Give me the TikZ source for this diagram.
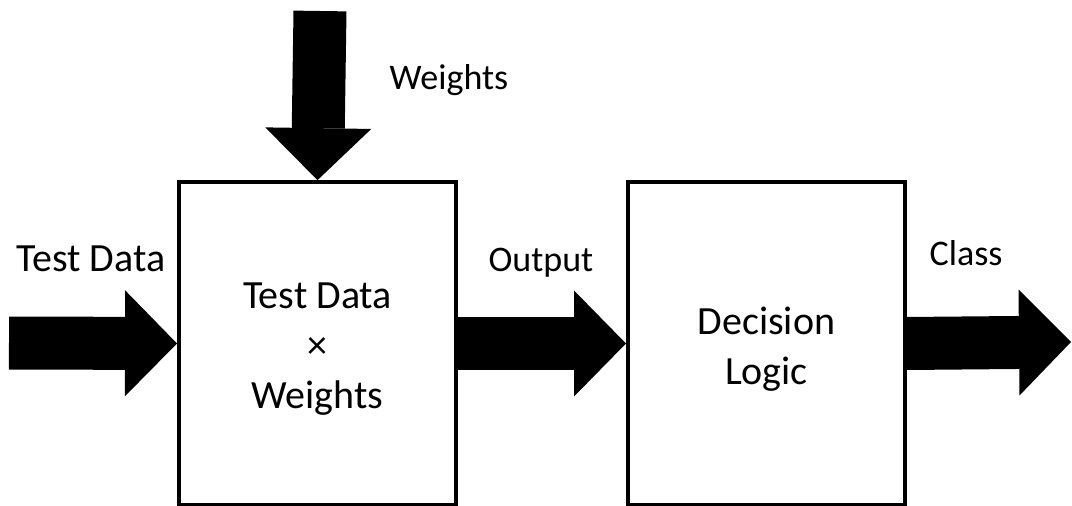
\documentclass[tikz,border=0pt]{standalone}
\usepackage{fontspec}
\setmainfont{Carlito}
\usetikzlibrary{arrows.meta, positioning}

\begin{document}
\begin{tikzpicture}[
    x=0.75pt, y=-0.75pt,
    every node/.style={text=black},
    block/.style={draw, line width=3pt, minimum width=207.75pt,
                  minimum height=242pt},
    blocktext/.style={align=center, font=\fontsize{30}{37.5}\selectfont},
    flow/.style={line width=39.75pt,
                 -{Triangle[length=39pt, width=79.5pt, line width=0pt]}},
    lbl/.style={font=\fontsize{27}{32}\selectfont, anchor=base},
  ]

  % Background
  \fill[white] (0,0) rectangle (1072,506);
  \useasboundingbox (0,0) rectangle (1072,506);

  % Blocks
  \node[block] (mult) at (317.5,343.5) {};
  \node[block] (decide) at (766.5,343.5) {};
  \node[blocktext] (multtext) at ([yshift=-4.5pt]mult.center)
    {Test Data\\×\\Weights};
  \node[blocktext] (decidetext) at ([yshift=-4.5pt]decide.center)
    {Decision\\Logic};

  % Free ends of the arrows
  \coordinate (win) at (320,11);
  \coordinate (din) at (9,343);
  \coordinate (cout) at (1071,342);

  % Arrows
  \draw[flow] (win) -- (mult.north);
  \draw[flow] (din) -- (mult.west);
  \draw[flow] (mult.east) -- (decide.west);
  \draw[flow] (decide.east) -- (cout);

  % Labels
  \node[lbl] (wlabel) at (449,90) {Weights};
  \node[lbl, font=\fontsize{30}{36}\selectfont] (dlabel) at (91,272) {Test Data};
  \node[lbl] (olabel) at (541,272) {Output};
  \node[lbl] (clabel) at (966,266) {Class};

\end{tikzpicture}
\end{document}
